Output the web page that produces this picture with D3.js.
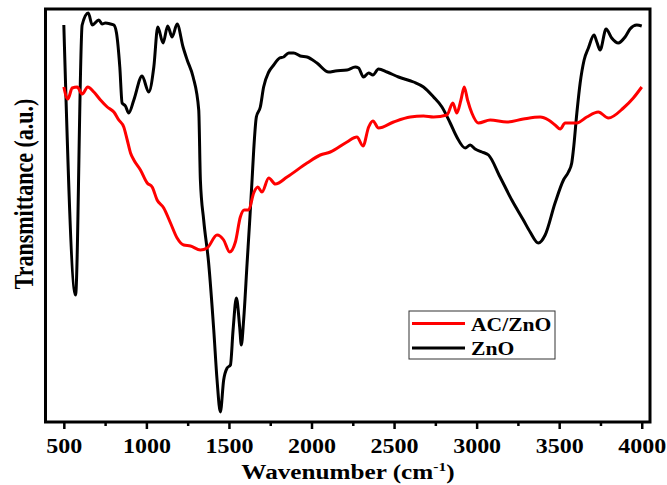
<!DOCTYPE html>
<html>
<head>
<meta charset="utf-8">
<script src="https://cdn.jsdelivr.net/npm/d3@7"></script>
<style>
  body { margin: 0; background: #fff; }
  svg { display: block; }
</style>
</head>
<body>
<div id="chart"></div>
<script>
// FTIR spectra, wavenumber (cm-1) vs transmittance (a.u.)
const znoWave = [500, 571, 611, 648, 672, 712, 732, 752, 783, 803, 819, 839, 853, 873, 893, 924, 974, 1014, 1045, 1069,
  1101, 1129, 1156, 1186, 1222, 1247, 1283, 1317, 1327, 1347, 1377, 1408, 1428, 1448, 1468, 1489, 1509, 1525, 1545, 1565,
  1575, 1589, 1610, 1626, 1640, 1650, 1666, 1690, 1710, 1741, 1771, 1807, 1831, 1862, 1892, 1932, 1973, 2033, 2104, 2144,
  2215, 2265, 2285, 2315, 2346, 2372, 2406, 2457, 2527, 2618, 2678, 2739, 2790, 2840, 2880, 2931, 2961, 2991, 3032, 3072,
  3142, 3213, 3283, 3324, 3374, 3415, 3475, 3526, 3556, 3576, 3586, 3607, 3627, 3651, 3677, 3711, 3728, 3748, 3784, 3818,
  3858, 3899, 3929, 3970, 4000];
const znoT = [396, 126, 396, 408, 396, 401, 397, 398, 397, 396, 388, 354, 318, 315, 308, 321, 345, 329, 354, 394,
  378, 395, 384, 397, 374, 361, 344, 311, 241, 201, 158, 91, 41, 9, 41, 53, 56, 91, 123, 94,
  76, 101, 158, 201, 241, 271, 304, 314, 334, 349, 356, 363, 364, 368, 368, 365, 364, 358, 349, 350,
  351, 354, 353, 344, 348, 346, 352, 349, 344, 339, 334, 324, 314, 298, 284, 273, 276, 272, 269, 266,
  244, 221, 201, 189, 178, 186, 218, 241, 249, 258, 271, 308, 338, 361, 373, 386, 379, 371, 392, 383,
  378, 384, 392, 396, 395];

const acWave = [500, 524, 551, 581, 611, 645, 682, 722, 763, 803, 833, 863, 884, 904, 924, 964, 1005, 1035, 1065, 1105,
  1146, 1186, 1226, 1267, 1327, 1368, 1428, 1468, 1504, 1539, 1569, 1593, 1619, 1650, 1674, 1700, 1741, 1781, 1852, 1973,
  2053, 2114, 2215, 2275, 2312, 2346, 2372, 2406, 2497, 2598, 2678, 2739, 2820, 2856, 2880, 2905, 2925, 2945, 2971, 3011,
  3082, 3183, 3283, 3385, 3435, 3475, 3506, 3536, 3607, 3667, 3737, 3798, 3889, 3949, 4000];
const acT = [334, 322, 333, 334, 327, 334, 329, 321, 314, 309, 301, 294, 281, 268, 261, 251, 238, 234, 221, 213,
  198, 183, 176, 175, 171, 173, 186, 181, 169, 179, 204, 211, 211, 228, 234, 229, 243, 237, 244, 258,
  266, 269, 279, 284, 275, 294, 300, 293, 299, 304, 305, 304, 306, 318, 308, 321, 334, 321, 308, 298,
  301, 299, 302, 304, 301, 296, 292, 298, 298, 304, 309, 303, 313, 323, 334];

const majorTicks = [500, 1000, 1500, 2000, 2500, 3000, 3500, 4000];
const minorTicks = [750, 1250, 1750, 2250, 2750, 3250, 3750];
const seriesNames = ["AC/ZnO", "ZnO"];
const seriesColors = ["#ff0000", "#000000"];

const width = 667, height = 485;
const plotLeft = 45.5, plotRight = 650, plotTop = 9, plotBottom = 422;
const font = "'Liberation Serif', 'Times New Roman', serif";

const svg = d3.select("#chart").append("svg")
  .attr("width", width)
  .attr("height", height)
  .attr("font-family", font)
  .attr("font-weight", "bold");

const x = d3.scaleLinear().domain([389, 4050]).range([plotLeft, plotRight]);
const y = d3.scaleLinear().domain([-1, 412]).range([plotBottom, plotTop]);

const line = d3.line()
  .x(d => x(d[0]))
  .y(d => y(d[1]))
  .curve(d3.curveMonotoneX);

const series = [
  d3.zip(acWave, acT),
  d3.zip(znoWave, znoT)
];

// draw the black one first so red sits on top
[1, 0].forEach(i => {
  svg.append("path")
    .datum(series[i])
    .attr("fill", "none")
    .attr("stroke", seriesColors[i])
    .attr("stroke-width", 3)
    .attr("stroke-linejoin", "round")
    .attr("d", line);
});

// x axis, major + minor ticks
const xAxis = svg.append("g")
  .attr("transform", `translate(0,${plotBottom})`)
  .call(d3.axisBottom(x).tickValues(majorTicks).tickSize(7).tickFormat(d3.format("d")));
xAxis.select(".domain").remove();
xAxis.selectAll(".tick line").attr("stroke", "#000").attr("stroke-width", 2.5);
xAxis.selectAll(".tick text")
  .attr("y", 31).attr("dy", 0)
  .attr("fill", "#000")
  .attr("font-size", 20)
  .attr("font-family", font)
  .attr("font-weight", "bold")
  .attr("transform", "scale(1.2,1)");

const xMinor = svg.append("g")
  .attr("transform", `translate(0,${plotBottom})`)
  .call(d3.axisBottom(x).tickValues(minorTicks).tickSize(4).tickFormat(""));
xMinor.select(".domain").remove();
xMinor.selectAll(".tick line").attr("stroke", "#000").attr("stroke-width", 2.5);

// frame
svg.append("rect")
  .attr("x", plotLeft).attr("y", plotTop)
  .attr("width", plotRight - plotLeft).attr("height", plotBottom - plotTop)
  .attr("fill", "none")
  .attr("stroke", "#000")
  .attr("stroke-width", 3);

// axis titles
const xTitle = svg.append("text")
  .attr("transform", "translate(348,479) scale(1.2,1)")
  .attr("text-anchor", "middle")
  .attr("font-size", 21);
xTitle.append("tspan").text("Wavenumber (cm");
xTitle.append("tspan").attr("font-size", 13).attr("dy", -8).text("-1");
xTitle.append("tspan").attr("dy", 8).text(")");

svg.append("text")
  .attr("transform", "translate(33,194) rotate(-90) scale(1,1.2)")
  .attr("text-anchor", "middle")
  .attr("font-size", 22)
  .text("Transmittance (a.u.)");

// legend
const legend = svg.append("g");
legend.append("rect")
  .attr("x", 409).attr("y", 311)
  .attr("width", 146).attr("height", 48)
  .attr("fill", "#fff")
  .attr("stroke", "#333")
  .attr("stroke-width", 1);

seriesNames.forEach((name, i) => {
  const ly = 323.5 + i * 24.5;
  legend.append("line")
    .attr("x1", 412).attr("x2", 465)
    .attr("y1", ly).attr("y2", ly)
    .attr("stroke", seriesColors[i])
    .attr("stroke-width", 3);
  legend.append("text")
    .attr("transform", `translate(471,${ly + 7}) scale(1.2,1)`)
    .attr("font-size", 18)
    .text(name);
});
</script>
</body>
</html>
